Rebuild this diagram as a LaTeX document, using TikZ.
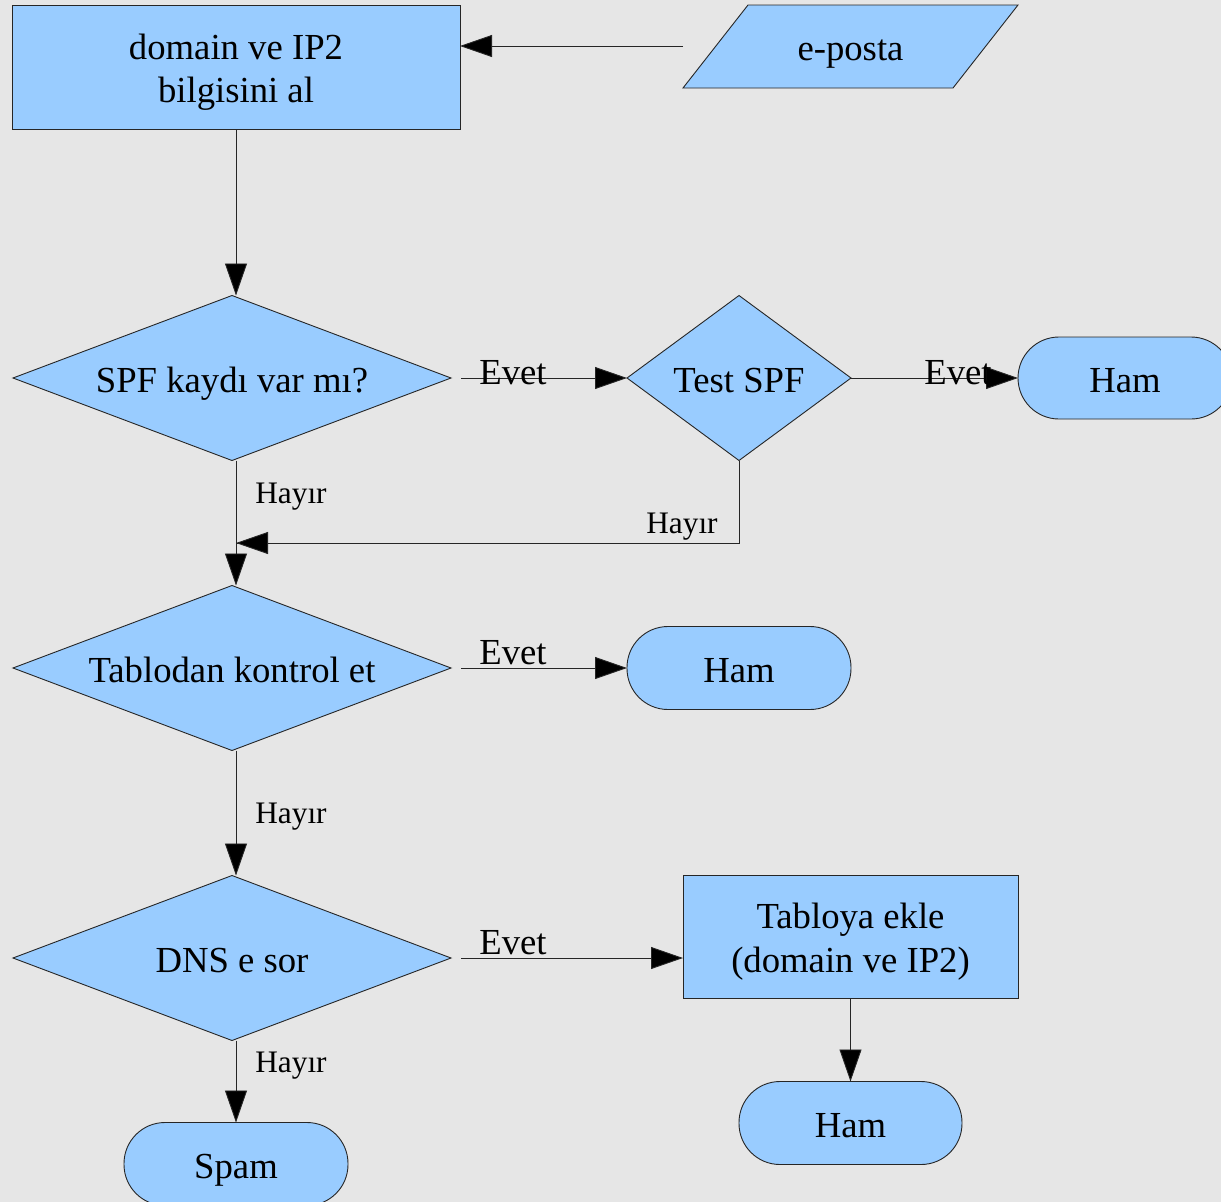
\documentclass[tikz,border=0pt]{standalone}
\usepackage{fontspec}
\setmainfont{Liberation Serif}
\usetikzlibrary{shapes.geometric,arrows.meta}
\definecolor{bg}{HTML}{E6E6E6}
\definecolor{fillb}{HTML}{99CCFF}
\begin{document}
\begin{tikzpicture}[x=1pt,y=-1pt,
 base/.style={draw=black!85, line width=0.9pt, fill=fillb, font=\fontsize{36.7}{43.5}\selectfont, inner sep=0pt, outer sep=0pt, text height=30pt, text depth=2pt},
 procbox/.style={base, rectangle, align=center, text height=73pt, text depth=2pt},
 decision/.style={base, diamond},
 term/.style={base, rectangle, rounded corners=41pt},
 lbl/.style={font=\fontsize{36.7}{43.5}\selectfont, inner sep=0pt, text height=30pt, text depth=2pt},
 small/.style={font=\fontsize{31.3}{37}\selectfont, inner sep=0pt, text height=25pt, text depth=1pt},
 arr/.style={draw=black!85, line width=0.9pt, -{Triangle[length=32pt,width=22pt,fill=black]}},
]
\fill[bg] (0,0) rectangle (1221,1202);
\useasboundingbox (0,0) rectangle (1221,1202);

% nodes
\node[procbox, minimum width=448pt, minimum height=124pt] (info) at (236,67) {domain ve IP2\\bilgisini al};
\draw[draw=black!85, line width=0.9pt, fill=fillb] (683,88) -- (748,5) -- (1018,5) -- (953,88) -- cycle;
\node[lbl] (mail) at (850.5,46.5) {e-posta};
\coordinate (mailin) at (683,46);

\node[decision, aspect=2.65, minimum width=438pt, minimum height=165pt] (spf) at (232,378) {SPF kaydı var mı?};
\node[decision, aspect=1.36, minimum width=224pt, minimum height=165pt] (test) at (739,378) {Test SPF};
\node[term, minimum width=214pt, minimum height=82pt] (ham1) at (1125,378) {Ham};

\node[decision, aspect=2.65, minimum width=438pt, minimum height=165pt] (tab) at (232,668) {Tablodan kontrol et};
\node[term, minimum width=224pt, minimum height=83pt] (ham2) at (739,668) {Ham};

\node[decision, aspect=2.65, minimum width=438pt, minimum height=165pt] (dns) at (232,958) {DNS e sor};
\node[procbox, minimum width=335pt, minimum height=123pt] (add) at (850.5,936.5) {Tabloya ekle\\(domain ve IP2)};
\node[term, minimum width=223pt, minimum height=83pt] (ham3) at (850.5,1123) {Ham};
\node[term, minimum width=224pt, minimum height=83pt] (spam) at (236,1164) {Spam};

\coordinate (join) at (236,543);

% connectors
\draw[arr] (mailin) -- (mailin -| info.east);
\draw[arr] (info.south) -- ([xshift=4pt]spf.north);
\draw[arr] ([xshift=10pt]spf.east) -- (test.west);
\draw[arr] (test.east) -- (ham1.west);
\draw[draw=black!85, line width=0.9pt] (test.south) |- (join);
\draw[arr] (test.south |- join) -- (join);
\draw[arr] ([xshift=4pt]spf.south) -- ([xshift=4pt]tab.north);
\draw[arr] ([xshift=10pt]tab.east) -- (ham2.west);
\draw[arr] ([xshift=4pt]tab.south) -- ([xshift=4pt]dns.north);
\draw[arr] ([xshift=10pt]dns.east) -- (dns.east -| add.west);
\draw[arr] (add.south) -- (ham3.north);
\draw[arr] ([xshift=4pt]dns.south) -- (spam.north);

% labels
\node[lbl] (e1) at (513,370) {Evet};
\node[lbl] (e2) at (958,370) {Evet};
\node[lbl] (e3) at (513,650) {Evet};
\node[lbl] (e4) at (513,940) {Evet};
\node[small] (h1) at (291,491) {Hayır};
\node[small] (h2) at (682,521) {Hayır};
\node[small] (h3) at (291,811) {Hayır};
\node[small] (h4) at (291,1060) {Hayır};
\end{tikzpicture}
\end{document}
